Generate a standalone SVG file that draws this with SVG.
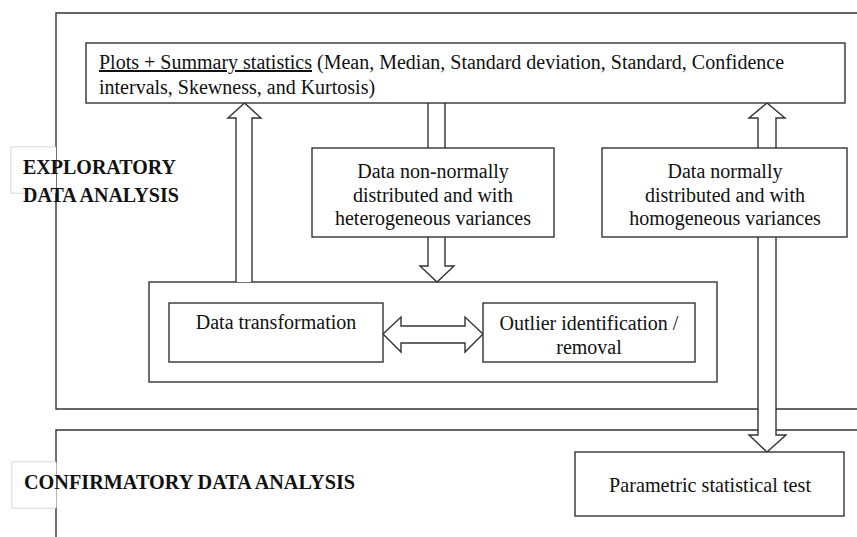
<svg xmlns="http://www.w3.org/2000/svg" width="857" height="537" viewBox="0 0 857 537">
<style>
.frame{fill:none;stroke:#333;stroke-width:1.4}
.lab{fill:#fff;stroke:#ccc;stroke-width:1}
.box{fill:#fff;stroke:#333;stroke-width:1.4}
.arr{fill:#fff;stroke:#333;stroke-width:1.4;stroke-linejoin:miter}
.t{font-family:"Liberation Serif","Times New Roman",serif;font-size:20px;fill:#111}
.b{font-family:"Liberation Serif","Times New Roman",serif;font-size:20px;font-weight:bold;fill:#111}
.m{text-anchor:middle}
</style>
<rect width="857" height="537" fill="#fff"/>
<g id="frames">
<path class="frame" d="M857,13 H56 V409 H857"/>
<path class="frame" d="M857,430 H56 V537"/>
</g>
<g id="label-exploratory">
<path class="lab" d="M56,147 H11 V193 H56"/>
<rect x="11.5" y="147.5" width="44" height="45" fill="#fff"/>
<text class="b" x="23" y="174">EXPLORATORY</text>
<text class="b" x="23" y="202">DATA ANALYSIS</text>
</g>
<g id="label-confirmatory">
<path class="lab" d="M56,462 H12 V508 H56"/>
<rect x="12.5" y="462.5" width="44" height="45" fill="#fff"/>
<text class="b" x="24" y="489" textLength="331" lengthAdjust="spacingAndGlyphs">CONFIRMATORY DATA ANALYSIS</text>
</g>
<g id="remedies">
<rect class="box" x="149" y="282" width="568" height="100"/>
</g>
<g id="connectors">
<path class="arr" d="M236,282 V118 H228 L244.5,103 L261,118 H252 V282"/>
<path class="arr" d="M428,103 V266 H420 L437,282 L454,266 H445 V103"/>
<path class="arr" d="M758,118 H749 L767,103 L785,118 H776 V435 H786 L767,452 L749,435 H758 Z"/>
<path class="arr" d="M383,334 L401,317 V326 H465 V317 L483,334 L465,352 V343 H401 V352 Z"/>
</g>
<g id="summary">
<rect class="box" x="86" y="43" width="759" height="60"/>
<text class="t" x="99" y="69"><tspan text-decoration="underline">Plots + Summary statistics</tspan> (Mean, Median, Standard deviation, Standard, Confidence</text>
<text class="t" x="99" y="94">intervals, Skewness, and Kurtosis)</text>
</g>
<g id="non-normal">
<rect class="box" x="312" y="148" width="242" height="89"/>
<text class="t m" x="433" y="178">Data non-normally</text>
<text class="t m" x="433" y="202">distributed and with</text>
<text class="t m" x="433" y="225">heterogeneous variances</text>
</g>
<g id="normal">
<rect class="box" x="602" y="148" width="245" height="89"/>
<text class="t m" x="725" y="178">Data normally</text>
<text class="t m" x="725" y="202">distributed and with</text>
<text class="t m" x="725" y="225">homogeneous variances</text>
</g>
<g id="transformation">
<rect class="box" x="169" y="303" width="214" height="59"/>
<text class="t m" x="276" y="329">Data transformation</text>
</g>
<g id="outlier">
<rect class="box" x="483" y="303" width="212" height="59"/>
<text class="t m" x="589" y="330">Outlier identification /</text>
<text class="t m" x="589" y="354">removal</text>
</g>
<g id="parametric">
<rect class="box" x="575" y="452" width="269" height="64"/>
<text class="t m" x="710" y="492" textLength="202" lengthAdjust="spacingAndGlyphs" style="font-size:21px">Parametric statistical test</text>
</g>
</svg>
